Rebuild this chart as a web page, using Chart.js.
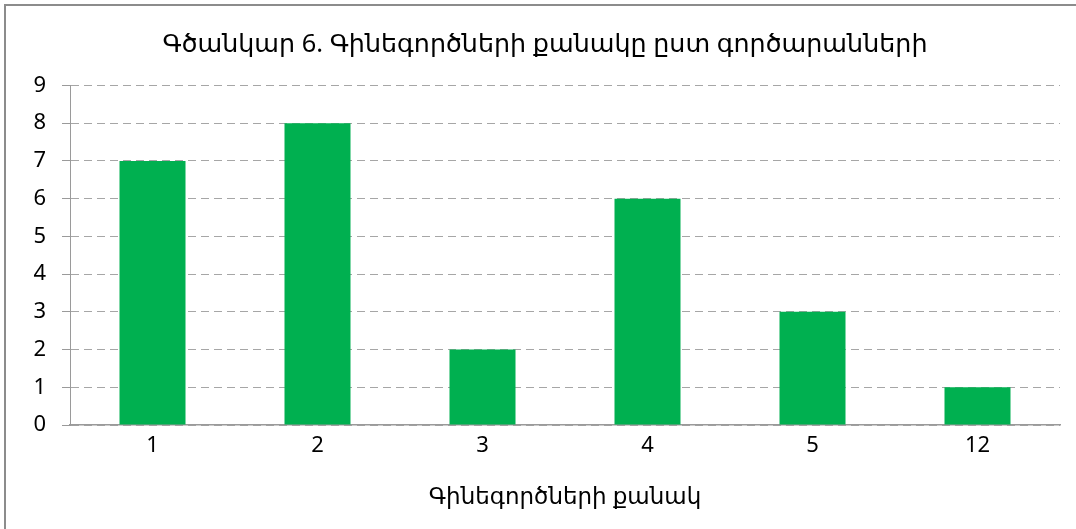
<!DOCTYPE html>
<html>
<head>
<meta charset="utf-8">
<script src="https://cdn.jsdelivr.net/npm/chart.js@4"></script>
<style>
  html, body { margin: 0; padding: 0; background: #fff; overflow: hidden; }
  #wrap { position: relative; width: 1076px; height: 529px; }
  #frame { position: absolute; left: 4px; top: 4px; width: 1100px; height: 560px; border: 2px solid #8c8c8c; box-sizing: border-box; }
  canvas { position: absolute; left: 0; top: 0; }
</style>
</head>
<body>
<div id="wrap">
  <div id="frame"></div>
  <canvas id="c" width="1076" height="529"></canvas>
</div>
<script>
const chartTitle = "Գծանկար 6. Գինեգործների քանակը ըստ գործարանների";
const xAxisTitle = "Գինեգործների քանակ";
const categories = ["1", "2", "3", "4", "5", "12"];
const counts = [7, 8, 2, 6, 3, 1];
const yTicks = [0, 1, 2, 3, 4, 5, 6, 7, 8, 9];

const FONT = "'Noto Sans', 'DejaVu Sans', sans-serif";
const barColor = "#00B050";

new Chart(document.getElementById('c'), {
  type: 'bar',
  data: {
    labels: categories,
    datasets: [{
      data: counts,
      backgroundColor: barColor,
      borderWidth: 0,
      barPercentage: 0.4,
      categoryPercentage: 1.0
    }]
  },
  options: {
    responsive: false,
    animation: false,
    layout: { padding: { left: 30, right: 16, top: 0, bottom: 0 } },
    plugins: {
      legend: { display: false },
      tooltip: { enabled: false },
      title: {
        display: true,
        text: chartTitle,
        color: '#000',
        font: { family: FONT, size: 25.4, weight: 'normal', lineHeight: 1.2 },
        padding: { top: 30, bottom: 25 }
      }
    },
    scales: {
      x: {
        grid: { display: false, drawTicks: false },
        border: { display: true, color: '#9a9a9a', width: 1.5 },
        ticks: { color: '#000', font: { family: FONT, size: 22 }, padding: 8 },
        title: {
          display: true,
          text: xAxisTitle,
          color: '#000',
          font: { family: FONT, size: 23, weight: 'normal', lineHeight: 1.2 },
          padding: { top: 0, bottom: 18 }
        },
        afterFit: (s) => { s.height = 104; }
      },
      y: {
        min: 0,
        max: 9,
        afterBuildTicks: (s) => { s.ticks = yTicks.map(v => ({ value: v })); },
        grid: {
          color: '#a6a6a6',
          lineWidth: 1,
          drawTicks: true,
          tickLength: 8,
          tickColor: '#9a9a9a',
          tickBorderDash: []
        },
        border: { display: true, color: '#9a9a9a', width: 1, dash: [8, 5] },
        ticks: { color: '#000', font: { family: FONT, size: 22 }, padding: 16 },
        afterFit: (s) => { s.width = 40; }
      }
    }
  }
});
</script>
</body>
</html>
